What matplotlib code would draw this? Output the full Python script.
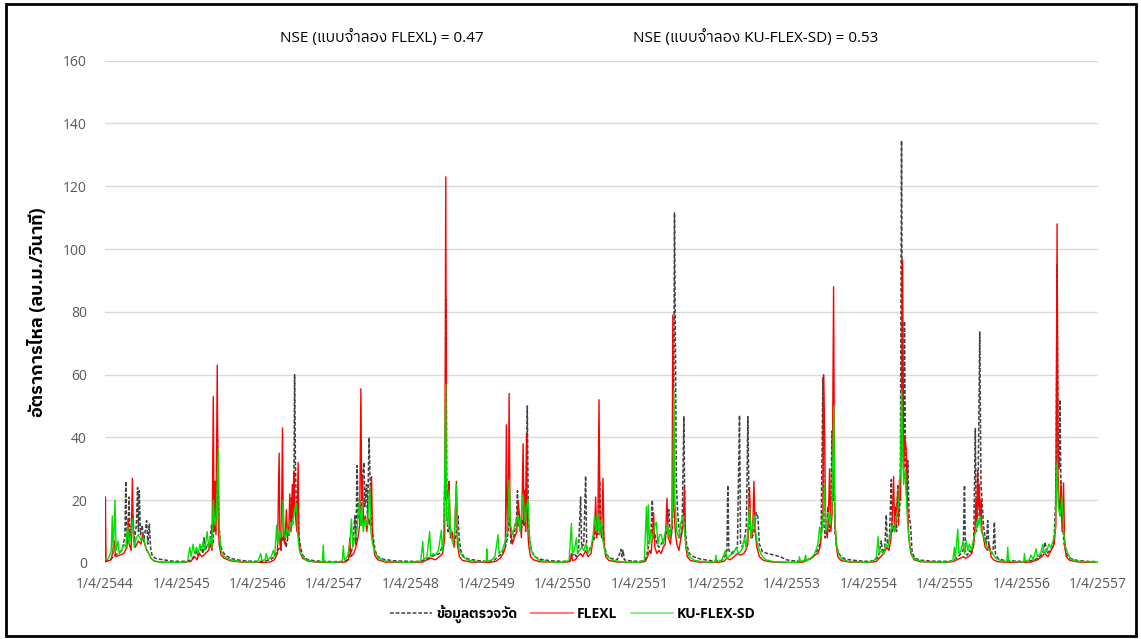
import numpy as np
import matplotlib
matplotlib.use("Agg")
import matplotlib.pyplot as plt
from matplotlib.lines import Line2D
from matplotlib.patches import Rectangle
import pandas as pd

# Latin text in Open Sans, Thai glyphs fall back to IBM Plex Sans Thai
plt.rcParams['font.family'] = ['Open Sans', 'IBM Plex Sans Thai', 'DejaVu Sans']

start = pd.Timestamp("2001-04-01")   # 1/4/2544
end = pd.Timestamp("2014-04-01")     # 1/4/2557

tick_years = list(range(2544, 2558))
tick_labels = [f"1/4/{y}" for y in tick_years]
title_flexl = "NSE (แบบจำลอง FLEXL) = 0.47"
title_ku = "NSE (แบบจำลอง KU-FLEX-SD) = 0.53"
ylabel = "อัตราการไหล (ลบ.ม./วินาที)"
series_names = ["ข้อมูลตรวจวัด", "FLEXL", "KU-FLEX-SD"]

# observed flow (days since 1/4/2544, m3/s)
obs_day = [0, 20, 40, 60, 80, 95, 100, 104, 110, 115, 120, 127, 134, 140, 150, 156, 160, 164, 170, 178, 185, 192, 199, 205, 212, 218, 225, 240, 260, 290, 320, 350,
           365, 400, 420, 430, 438, 445, 455, 462, 468, 474, 480, 490, 500, 505, 510, 516, 520, 526, 532, 538, 542, 546, 552, 560, 575, 600, 630, 680, 729,
           760, 790, 810, 825, 840, 850, 860, 866, 875, 885, 892, 897, 903, 907, 911, 916, 921, 927, 935, 945, 965, 1000, 1050, 1095,
           1140, 1160, 1175, 1185, 1195, 1200, 1206, 1211, 1218, 1224, 1232, 1239, 1243, 1251, 1256, 1263, 1270, 1276, 1283, 1292, 1305, 1330, 1380, 1460,
           1500, 1530, 1560, 1580, 1600, 1612, 1620, 1625, 1628, 1631, 1635, 1641, 1650, 1660, 1670, 1680, 1689, 1694, 1702, 1715, 1740, 1790, 1826,
           1860, 1880, 1900, 1915, 1925, 1936, 1942, 1950, 1960, 1968, 1973, 1978, 1990, 2000, 2008, 2014, 2020, 2025, 2032, 2040, 2055, 2080, 2130, 2191,
           2220, 2231, 2245, 2255, 2265, 2275, 2280, 2290, 2299, 2304, 2315, 2330, 2342, 2350, 2357, 2366, 2372, 2380, 2390, 2400, 2420, 2450, 2462, 2468, 2473, 2478, 2484, 2520, 2557,
           2580, 2590, 2599, 2605, 2612, 2618, 2624, 2630, 2640, 2650, 2660, 2670, 2680, 2690, 2697, 2704, 2712, 2718, 2724, 2728, 2733, 2740, 2750, 2760, 2769, 2774, 2782, 2795, 2815, 2850, 2900, 2922,
           2950, 2965, 2975, 2979, 2984, 2995, 3010, 3025, 3035, 3040, 3050, 3060, 3068, 3075, 3080, 3086, 3095, 3105, 3115, 3123, 3130, 3145, 3170, 3200, 3230, 3260, 3287,
           3320, 3350, 3380, 3400, 3415, 3425, 3434, 3439, 3445, 3452, 3458, 3465, 3472, 3477, 3482, 3486, 3492, 3500, 3515, 3540, 3600, 3652,
           3680, 3700, 3713, 3720, 3730, 3737, 3742, 3752, 3761, 3766, 3775, 3781, 3786, 3792, 3798, 3804, 3810, 3815, 3820, 3824, 3830, 3836, 3840, 3846, 3853, 3860, 3872, 3900, 3950, 4018,
           4050, 4063, 4080, 4095, 4105, 4111, 4116, 4125, 4135, 4145, 4155, 4163, 4168, 4175, 4184, 4190, 4195, 4202, 4210, 4216, 4222, 4228, 4238, 4248, 4254, 4259, 4270, 4300, 4350, 4383,
           4420, 4450, 4470, 4485, 4497, 4505, 4520, 4533, 4540, 4549, 4554, 4559, 4563, 4568, 4573, 4580, 4588, 4598, 4615, 4650, 4700, 4748]
obs_q = [0.5, 0.8, 2, 3, 4, 8, 26, 6, 10, 21, 8, 12, 15, 7, 12, 24, 10, 23, 9, 12, 7, 10, 13.5, 6, 12.4, 5, 2.5, 1.5, 1.2, 0.9, 0.6, 0.5,
         0.5, 0.6, 1.5, 3, 4, 2, 3.5, 5, 3, 8, 4, 6, 5, 9, 12, 6, 18, 10, 20, 40, 22, 12, 6, 4, 2.5, 1.5, 1, 0.6, 0.5,
         0.6, 1, 2, 4, 5, 8, 9.5, 5, 8, 10, 21, 12, 18, 60, 32, 15, 20, 9, 5, 2.5, 1.2, 0.7, 0.5, 0.4,
         0.5, 1, 3, 5, 15, 6, 31, 14, 20, 12, 28, 32, 18, 25, 14, 40, 22, 12, 8, 4, 2, 1.2, 0.7, 0.5,
         0.5, 1, 2, 2.5, 3, 5, 8, 27, 20, 84, 15, 10, 12, 8, 6, 9, 15, 8, 4, 2, 1.2, 0.7, 0.5,
         0.8, 2, 3, 5, 8, 15, 6, 7, 10, 14, 23, 12, 10, 14, 12, 18, 50, 15, 7, 4, 2, 1.2, 0.7, 0.5,
         0.6, 2, 3, 2, 4, 21, 5, 6, 27.7, 5, 4, 6, 8, 12, 9, 26, 10, 12, 5, 2.5, 1.5, 1, 3, 4.3, 2, 4, 1, 0.6, 0.5,
         0.7, 2, 5, 8, 10, 20, 8, 9, 6, 5, 6, 7, 8, 12, 17, 8, 10, 20, 111.5, 72, 25, 15, 8, 10, 46.6, 12, 6, 3, 2, 1.2, 0.7, 0.6,
         0.8, 2, 4, 24.7, 4, 3, 4, 5, 47, 6, 5, 8, 12, 46.6, 21, 10, 8, 10, 16, 14.6, 6, 3.5, 3, 2.5, 2, 1, 0.7,
         0.6, 0.8, 1.5, 3, 5, 8, 59, 12, 8, 10, 18, 10, 14, 42, 20, 30, 10, 5, 2.5, 1.2, 0.7, 0.5,
         0.8, 2, 7, 3, 5, 15.3, 6, 8, 26.5, 10, 12, 18, 10, 25, 15, 20, 134.5, 40, 30, 77, 25, 20, 32.6, 15, 12.4, 4, 1.5, 0.9, 0.6, 0.5,
         0.6, 1, 2, 3, 4, 24.7, 3, 2.5, 4, 3, 6, 42.8, 10, 15, 73.6, 25, 20, 12, 8, 6, 13.5, 5, 3, 4, 13, 3, 1.5, 0.8, 0.6, 0.5,
         0.6, 1, 2, 3, 6.6, 3, 4, 5, 8, 23, 95, 40, 30, 52, 20, 12, 6, 3, 1.5, 0.8, 0.5, 0.4]

# FLEXL simulated flow
flexl_day = [0, 2, 5, 30, 45, 50, 70, 90, 105, 111, 116, 125, 131, 136, 145, 160, 172, 180, 190, 200, 210, 220, 235, 260, 300, 350,
             365, 410, 430, 440, 450, 465, 480, 495, 505, 512, 518, 522, 526, 531, 537, 541, 546, 555, 570, 600, 650, 729,
             790, 810, 825, 833, 837, 843, 849, 853, 860, 868, 873, 880, 884, 890, 896, 900, 903, 907, 912, 918, 924, 928, 935, 945, 970, 1020, 1095,
             1150, 1165, 1171, 1176, 1190, 1200, 1210, 1218, 1224, 1228, 1232, 1237, 1245, 1252, 1260, 1268, 1275, 1280, 1290, 1305, 1340, 1460,
             1520, 1540, 1560, 1580, 1600, 1615, 1625, 1630, 1634, 1641, 1646, 1652, 1660, 1670, 1681, 1686, 1695, 1710, 1750, 1826,
             1870, 1890, 1905, 1915, 1920, 1925, 1930, 1933, 1938, 1948, 1958, 1970, 1976, 1984, 1992, 2000, 2004, 2008, 2012, 2016, 2020, 2026, 2035, 2050, 2080, 2191,
             2225, 2231, 2236, 2250, 2260, 2275, 2285, 2299, 2310, 2325, 2335, 2342, 2347, 2352, 2358, 2363, 2368, 2375, 2382, 2387, 2395, 2410, 2450, 2557,
             2585, 2595, 2605, 2612, 2618, 2624, 2630, 2640, 2650, 2660, 2670, 2680, 2688, 2694, 2705, 2712, 2716, 2721, 2728, 2735, 2745, 2755, 2765, 2772, 2777, 2785, 2800, 2840, 2922,
             2960, 2975, 2990, 3010, 3025, 3040, 3055, 3065, 3075, 3083, 3090, 3098, 3104, 3110, 3118, 3130, 3150, 3190, 3287,
             3340, 3360, 3380, 3395, 3410, 3420, 3428, 3434, 3437, 3442, 3447, 3455, 3460, 3466, 3472, 3478, 3485, 3490, 3497, 3505, 3520, 3560, 3652,
             3690, 3710, 3725, 3740, 3750, 3760, 3766, 3772, 3777, 3785, 3792, 3796, 3800, 3805, 3810, 3815, 3820, 3826, 3832, 3838, 3845, 3855, 3870, 3900, 4018,
             4060, 4075, 4090, 4105, 4115, 4130, 4145, 4155, 4162, 4166, 4170, 4174, 4178, 4182, 4186, 4190, 4195, 4202, 4210, 4222, 4230, 4238, 4250, 4270, 4320, 4383,
             4430, 4460, 4480, 4495, 4510, 4525, 4540, 4548, 4554, 4558, 4563, 4568, 4573, 4578, 4585, 4590, 4598, 4615, 4660, 4748]
flexl_q = [0.3, 21, 0.5, 1, 7, 2, 2.5, 3, 5, 14, 6, 4, 27, 8, 5, 7, 6, 9, 6, 4, 3, 1.5, 0.6, 0.3, 0.2, 0.1,
           0.1, 0.5, 2, 1, 3, 2, 3, 4, 6, 4, 53, 10, 26, 9, 63, 15, 6, 2.5, 1.5, 0.7, 0.3, 0.1,
           0.3, 1, 3, 35, 6, 4, 43, 8, 6, 17, 8, 12, 22, 10, 25, 15, 29, 18, 14, 10, 32, 8, 3, 1.5, 0.6, 0.2, 0.1,
           0.3, 1, 8, 2, 3, 5, 8, 12, 55.5, 20, 27, 12, 15, 10, 14, 12, 27.5, 8, 2.5, 1, 0.3, 0.1,
           0.3, 1, 1.5, 1, 2, 3, 8, 123, 20, 22, 26, 8, 10, 5, 26, 6, 2, 0.8, 0.3, 0.1,
           0.5, 1.5, 3, 5, 44, 10, 20, 54, 12, 6, 8, 10, 20, 14, 8, 38, 12, 23, 10, 41, 15, 6, 2, 1, 0.4, 0.1,
           0.5, 3, 0.8, 1, 2, 3, 2, 4, 2, 3, 8, 10, 21, 8, 15, 52, 12, 8, 27, 6, 2, 0.8, 0.3, 0.1,
           0.5, 2, 4, 3, 8, 16, 5, 3, 4, 3, 5, 6, 20.6, 8, 6, 12, 79, 18, 10, 6, 4, 8, 12, 24, 6, 2, 0.8, 0.3, 0.1,
           0.5, 1.5, 1, 2, 3, 2.5, 3, 4, 6, 24, 8, 10, 26, 10, 5, 2, 0.8, 0.3, 0.1,
           0.3, 1, 1.5, 2.5, 3, 5, 10, 18, 60, 41, 12, 8, 14, 30, 10, 16, 88, 15, 6, 2, 0.8, 0.3, 0.1,
           0.5, 2, 3, 5, 4, 8, 15, 27.5, 10, 14, 23, 12, 26.5, 20, 45, 96.6, 30, 40, 36.4, 20, 8, 3, 1, 0.4, 0.1,
           0.5, 1, 1.5, 2, 1.5, 2, 3, 6, 12, 20, 14, 29.5, 18, 25, 15, 20, 10, 8, 5, 4, 6, 2, 1, 0.4, 0.2, 0.1,
           0.3, 1, 2, 3, 2, 4, 6, 12, 108, 30, 20, 15, 26, 10, 25.5, 6, 2, 0.8, 0.3, 0.1]

# KU-FLEX-SD simulated flow
ku_day = [0, 10, 20, 30, 35, 40, 48, 53, 62, 68, 80, 90, 100, 108, 115, 125, 132, 140, 150, 160, 175, 185, 195, 210, 220, 235, 260, 300, 350,
          365, 395, 406, 412, 422, 428, 438, 445, 454, 462, 470, 478, 489, 496, 505, 512, 518, 526, 532, 542, 547, 555, 570, 600, 650, 729,
          745, 750, 765, 772, 778, 795, 805, 812, 821, 826, 835, 840, 846, 852, 857, 865, 872, 880, 888, 895, 902, 907, 916, 922, 930, 940, 960, 1000, 1040, 1044, 1048, 1095,
          1135, 1140, 1145, 1160, 1171, 1179, 1185, 1195, 1205, 1216, 1222, 1228, 1235, 1245, 1255, 1267, 1272, 1280, 1295, 1310, 1340, 1400, 1460,
          1510, 1520, 1525, 1540, 1553, 1558, 1570, 1580, 1595, 1609, 1614, 1620, 1625, 1630, 1634, 1641, 1646, 1652, 1665, 1672, 1681, 1687, 1695, 1710, 1740, 1790, 1824,
          1826, 1830, 1850, 1865, 1880, 1885, 1900, 1915, 1925, 1933, 1940, 1950, 1960, 1975, 1985, 2000, 2008, 2016, 2024, 2030, 2040, 2055, 2080, 2130, 2191,
          2220, 2231, 2236, 2245, 2255, 2260, 2270, 2280, 2290, 2300, 2310, 2325, 2335, 2342, 2350, 2357, 2365, 2374, 2380, 2390, 2405, 2430, 2480, 2557,
          2580, 2590, 2595, 2599, 2605, 2612, 2620, 2630, 2637, 2645, 2652, 2661, 2670, 2680, 2690, 2700, 2710, 2716, 2721, 2726, 2735, 2745, 2755, 2765, 2772, 2780, 2795, 2820, 2870, 2918,
          2922, 2926, 2950, 2968, 2975, 2990, 3005, 3020, 3030, 3045, 3059, 3066, 3075, 3083, 3090, 3098, 3107, 3115, 3125, 3140, 3160, 3200, 3287,
          3318, 3322, 3326, 3345, 3351, 3356, 3375, 3390, 3400, 3410, 3418, 3425, 3432, 3437, 3442, 3448, 3455, 3462, 3470, 3478, 3486, 3491, 3498, 3508, 3525, 3560, 3652,
          3680, 3690, 3698, 3703, 3715, 3725, 3735, 3745, 3755, 3765, 3775, 3785, 3795, 3805, 3810, 3815, 3820, 3828, 3835, 3842, 3850, 3862, 3880, 3920, 4018,
          4055, 4063, 4067, 4079, 4084, 4095, 4104, 4111, 4120, 4127, 4135, 4145, 4155, 4165, 4174, 4180, 4186, 4192, 4200, 4210, 4220, 4232, 4245, 4260, 4290, 4314, 4318, 4322, 4383,
          4394, 4398, 4402, 4420, 4430, 4440, 4454, 4460, 4475, 4486, 4492, 4505, 4515, 4525, 4535, 4545, 4554, 4560, 4568, 4578, 4585, 4595, 4605, 4620, 4660, 4748]
ku_q = [1.5, 1, 2, 4, 15, 3, 20, 4, 7, 3, 4, 6, 5, 12, 6, 9, 14, 5, 8, 9, 7, 8, 5, 3, 1.5, 0.7, 0.3, 0.2, 0.15,
        0.15, 0.5, 5, 2, 6, 3, 5, 3, 6, 4, 7, 4, 10, 5, 8, 5, 20, 12, 15, 36, 10, 4, 2, 1, 0.4, 0.2,
        3, 0.8, 1, 3, 1, 2, 4, 2, 12, 6, 10, 8, 12, 20, 9, 8, 11, 9, 13, 12, 15, 17, 19, 9, 4, 2.5, 1, 0.4, 0.3, 5.7, 0.3, 0.2,
        0.5, 5.5, 1, 2, 6, 14, 5, 8, 10, 20, 12, 18, 10, 14, 12, 24, 10, 6, 3, 1.5, 0.6, 0.3, 0.2,
        0.5, 6.8, 1, 2, 10, 2, 3, 2.5, 4, 10.5, 4, 8, 27, 57, 15, 12, 23, 10, 6, 10, 25, 8, 4, 2, 0.8, 0.3, 0.5,
        4.5, 0.5, 1, 2, 9, 3, 4, 7, 10, 26.5, 12, 9, 12, 15, 10, 22, 13, 18, 20, 8, 4, 2, 0.8, 0.3, 0.2,
        0.8, 12.6, 3, 4, 8, 3, 4, 5, 4, 6, 3, 5, 9, 15, 10, 16, 9, 13.7, 8, 4, 2, 0.8, 0.3, 0.2,
        0.8, 18, 5, 18.5, 6, 10, 8, 12, 13, 6, 9, 9, 6, 10, 12, 8, 12, 20, 55, 20, 10, 8, 13, 15, 10, 5, 2, 0.8, 0.3, 0.3,
        2.5, 0.4, 0.8, 4, 1.5, 2.5, 3, 5, 3, 4, 8, 5, 10, 17.8, 8, 12, 15, 8, 5, 2.5, 1, 0.4, 0.2,
        0.3, 2, 0.5, 0.7, 2.5, 0.6, 1.5, 2.5, 4, 6, 11.4, 8, 12, 18, 25, 10, 12, 16, 12, 20, 50, 15, 6, 3, 1.2, 0.4, 0.2,
        0.8, 2, 8.4, 3, 4, 3, 6, 5, 9, 12, 10, 15, 18, 30, 55, 40, 25, 30, 18, 10, 5, 2, 1, 0.4, 0.2,
        0.6, 5, 1, 10.8, 3, 4, 7, 3, 7, 4, 6, 4, 8, 10, 14, 12, 15, 10, 9, 7, 5, 4, 3, 1.5, 0.6, 0.4, 5, 0.5, 0.3,
        0.3, 3, 0.4, 1, 2.5, 1, 4.5, 2, 3, 6, 3, 4, 6, 5, 7, 10, 32, 18, 15, 21, 10, 5, 3, 1.2, 0.5, 0.2]


def to_dates(days):
    return [start + pd.Timedelta(days=d) for d in days]


fig = plt.figure(figsize=(11.41, 6.39), dpi=100)
ax = fig.add_axes([0.092, 0.119, 0.870, 0.786])

obs_style = dict(color="#404040", lw=1.1, ls=(0, (2.5, 1.2)))
ax.plot(to_dates(obs_day), obs_q, **obs_style)
ax.plot(to_dates(flexl_day), flexl_q, color="#ff0000", lw=1.0)
ax.plot(to_dates(ku_day), ku_q, color="#00e000", lw=1.0)

ax.set_xlim(start, end)
ax.set_ylim(0, 160)
ax.set_yticks(np.arange(0, 161, 20))
ticks = [pd.Timestamp(f"{y - 543}-04-01") for y in tick_years]
ax.set_xticks(ticks)
ax.set_xticklabels(tick_labels)
ax.tick_params(axis='both', length=0, labelsize=10, labelcolor="#595959")
ax.tick_params(axis='x', pad=10)
ax.tick_params(axis='y', pad=13)
for s in ax.spines.values():
    s.set_visible(False)
ax.grid(axis='y', color="#d9d9d9", lw=1)
ax.set_axisbelow(True)

ax.set_ylabel(ylabel, fontsize=13, fontweight='bold', color="black")
ax.yaxis.set_label_coords(-0.058, 0.5)

fig.text(382 / 1141, 1 - 38 / 639, title_flexl, ha='center', va='center', fontsize=11, color="black")
fig.text(756 / 1141, 1 - 38 / 639, title_ku, ha='center', va='center', fontsize=11, color="black")

handles = [Line2D([], [], **obs_style),
           Line2D([], [], color="#ff6060", lw=1.2),
           Line2D([], [], color="#70f070", lw=1.2)]
fig.legend(handles, series_names, loc='center', bbox_to_anchor=(573 / 1141, 1 - 614 / 639),
           ncol=3, frameon=False, prop={'size': 10, 'weight': 'bold'},
           handlelength=3.0, columnspacing=1.0, handletextpad=0.3)

fig.patches.append(Rectangle((6 / 1141, 3 / 639), 1130 / 1141, 632 / 639, transform=fig.transFigure,
                             fill=False, edgecolor="black", lw=2))

fig.savefig("out.png", dpi=100)
